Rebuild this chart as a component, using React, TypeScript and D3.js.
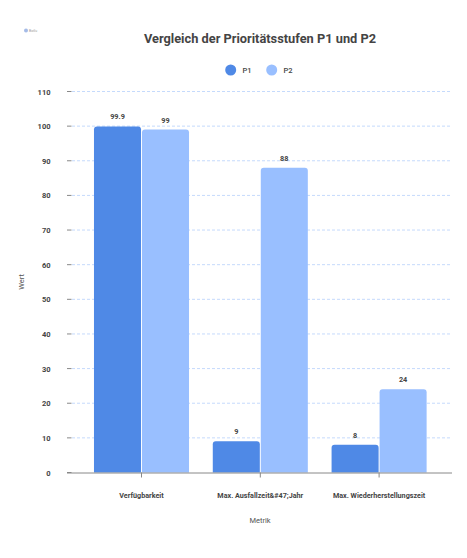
import React from "react";
import * as d3 from "d3";

const categories = ["Verfügbarkeit", "Max. Ausfallzeit&#47;Jahr", "Max. Wiederherstellungszeit"];
const seriesNames = ["P1", "P2"];
const p1Values = [99.9, 9, 8];
const p2Values = [99, 88, 24];
const yTicks = [0, 10, 20, 30, 40, 50, 60, 70, 80, 90, 100, 110];
const colors = ["#4f89e6", "#99bfff"];

const W = 467;
const H = 558;
const FONT = "Roboto, 'Noto Sans', sans-serif";

function topRoundedRect(x: number, y: number, w: number, h: number, r: number) {
  const rr = Math.min(r, h, w / 2);
  return `M${x},${y + h}V${y + rr}Q${x},${y} ${x + rr},${y}H${x + w - rr}Q${x + w},${y} ${x + w},${y + rr}V${y + h}Z`;
}

export default function App() {
  const y = d3.scaleLinear().domain([0, 110]).range([472.5, 91.5]);
  const x0 = d3.scaleBand<string>().domain(categories).range([82.1, 438.5]).paddingInner(0.2).paddingOuter(0.1);
  const x1 = d3.scaleBand<string>().domain(seriesNames).range([0, x0.bandwidth()]).paddingInner(0.02);
  const series = [p1Values, p2Values];

  return (
    <div style={{ position: "absolute", left: 0, top: 0 }}>
      <svg width={W} height={H} style={{ display: "block", fontFamily: FONT }}>
        <rect width={W} height={H} fill="#fff" />
        {/* logo */}
        <g opacity={0.6}>
          <circle cx={26} cy={30.5} r={2} fill="#6a8fd8" />
          <text x={29} y={32} fontSize={3.5} fill="#555" fontFamily={FONT}>Botlu</text>
        </g>
        <text x={260} y={43} textAnchor="middle" fontSize={12.8} fontWeight={700} fill="#444">
          Vergleich der Prioritätsstufen P1 und P2
        </text>
        {/* legend */}
        {seriesNames.map((s, i) => (
          <g key={s}>
            <circle cx={230.7 + i * 41} cy={70} r={5.5} fill={colors[i]} />
            <text x={242.5 + i * 41} y={72.8} fontSize={7.5} fontWeight={500} fill="#444">{s}</text>
          </g>
        ))}
        {/* grid + y ticks */}
        {yTicks.map((t) => (
          <g key={t}>
            {t > 0 && (
              <line x1={72} x2={452} y1={y(t)} y2={y(t)} stroke="#c5dafc" strokeDasharray="3,2" strokeWidth={1} />
            )}
            <line x1={67} x2={71.5} y1={y(t)} y2={y(t)} stroke="#888" strokeWidth={1} />
            <text x={50.5} y={y(t) + 3} textAnchor="end" fontSize={7.5} fontWeight={700} fill="#444">{t}</text>
          </g>
        ))}
        <text transform={`translate(24,282) rotate(-90)`} textAnchor="middle" fontSize={7.5} fill="#555">Wert</text>
        {/* bars */}
        {categories.map((c, ci) => (
          <g key={c}>
            {series.map((vals, si) => {
              const bx = (x0(c) ?? 0) + (x1(seriesNames[si]) ?? 0);
              const bw = x1.bandwidth();
              const by = y(vals[ci]);
              return (
                <g key={si}>
                  <path d={topRoundedRect(bx, by, bw, y(0) - by, 3)} fill={colors[si]} />
                  <text x={bx + bw / 2} y={by - 7} textAnchor="middle" fontSize={7.3} fontWeight={700} fill="#444">
                    {String(vals[ci])}
                  </text>
                </g>
              );
            })}
          </g>
        ))}
        {/* x axis */}
        <line x1={67} x2={452} y1={y(0) + 0.5} y2={y(0) + 0.5} stroke="#888" strokeWidth={1} />
        {categories.map((c) => {
          const cx = (x0(c) ?? 0) + x0.bandwidth() / 2;
          return (
            <g key={c}>
              <line x1={cx} x2={cx} y1={y(0)} y2={y(0) + 5} stroke="#888" />
              <text x={cx} y={498} textAnchor="middle" fontSize={7.2} fontWeight={700} fill="#444">{c}</text>
            </g>
          );
        })}
        <text x={260} y={523} textAnchor="middle" fontSize={7.5} fill="#555">Metrik</text>
      </svg>
    </div>
  );
}
